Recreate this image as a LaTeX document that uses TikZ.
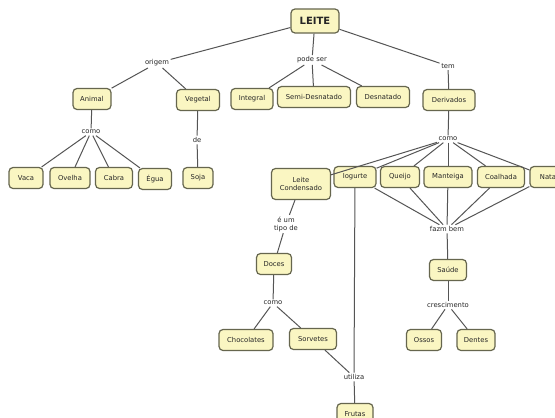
\documentclass[tikz,border=0pt]{standalone}
\usepackage{fontspec}
\setmainfont{DejaVu Sans}
\begin{document}
\begin{tikzpicture}[x=1pt,y=-1pt,
  concept/.style={draw=boxline,fill=boxfill,line width=1.2pt,rounded corners=4pt,
    minimum height=21pt,inner xsep=4pt,inner ysep=2pt,font=\fontsize{6.8}{8}\selectfont,align=center,text=black!85},
  link/.style={inner sep=1.5pt,font=\fontsize{6.8}{8}\selectfont,align=center,text=black!85},
  conn/.style={draw=linegray,line width=1pt}]
\definecolor{boxfill}{HTML}{FAF6C2}
\definecolor{boxline}{HTML}{66664E}
\definecolor{linegray}{HTML}{555555}
\useasboundingbox[fill=white] (0,0) rectangle (555,418);
% concepts
\node[concept,minimum width=48pt,minimum height=24pt,font=\fontsize{10}{12}\selectfont\bfseries] (leite) at (315,21) {LEITE};
\node[concept,minimum width=38pt] (animal) at (92,99) {Animal};
\node[concept,minimum width=43pt] (vegetal) at (198,100) {Vegetal};
\node[concept,minimum width=42pt] (integral) at (252,99) {Integral};
\node[concept,minimum width=73pt] (semi) at (314,97) {Semi-Desnatado};
\node[concept,minimum width=53pt] (desn) at (383,97) {Desnatado};
\node[concept,minimum width=52pt] (deriv) at (449,100) {Derivados};
\node[concept,minimum width=34pt] (vaca) at (26,178) {Vaca};
\node[concept,minimum width=40pt] (ovelha) at (70,178) {Ovelha};
\node[concept,minimum width=37pt] (cabra) at (114,178) {Cabra};
\node[concept,minimum width=33pt] (egua) at (155,179) {Égua};
\node[concept,minimum width=30pt] (soja) at (198,178) {Soja};
\node[concept,minimum width=59pt,minimum height=31pt] (lcond) at (301,184) {Leite\\Condensado};
\node[concept,minimum width=42pt] (iog) at (355,177) {Iogurte};
\node[concept,minimum width=39pt] (queijo) at (400,177) {Queijo};
\node[concept,minimum width=48pt] (mant) at (448,177) {Manteiga};
\node[concept,minimum width=47pt] (coal) at (501,177) {Coalhada};
\node[concept,minimum width=36pt] (nata) at (548,177) {Nata};
\node[concept,minimum width=35pt] (doces) at (274,264) {Doces};
\node[concept,minimum width=37pt] (saude) at (448,270) {Saúde};
\node[concept,minimum width=54pt] (choc) at (246,340) {Chocolates};
\node[concept,minimum width=47pt] (sorv) at (313,339) {Sorvetes};
\node[concept,minimum width=35pt] (ossos) at (424,340) {Ossos};
\node[concept,minimum width=38pt] (dentes) at (476,340) {Dentes};
\node[concept,minimum width=36pt] (frutas) at (355,414) {Frutas};
% linking phrases
\node[link] (origem) at (157,63) {origem};
\node[link] (podeser) at (312,60) {pode ser};
\node[link] (tem) at (448,66) {tem};
\node[link] (como1) at (91,132) {como};
\node[link] (de) at (197,140) {de};
\node[link] (como2) at (448,139) {como};
\node[link] (eum) at (286,224) {é um\\tipo de};
\node[link] (fazm) at (447,229) {fazm bem};
\node[link] (como3) at (273,303) {como};
\node[link] (cresc) at (448,305) {crescimento};
\node[link] (util) at (354,377) {utiliza};
% connectors
\draw[conn] (leite) -- (origem);
\draw[conn] (origem) -- (animal);
\draw[conn] (origem) -- (vegetal);
\draw[conn] (leite) -- (podeser);
\draw[conn] (podeser) -- (integral);
\draw[conn] (podeser) -- (semi);
\draw[conn] (podeser) -- (desn);
\draw[conn] (leite) -- (tem);
\draw[conn] (tem) -- (deriv);
\draw[conn] (animal) -- (como1);
\foreach \n in {vaca,ovelha,cabra,egua} \draw[conn] (como1) -- (\n);
\draw[conn] (vegetal) -- (de);
\draw[conn] (de) -- (soja);
\draw[conn] (deriv) -- (como2);
\foreach \n in {lcond,iog,queijo,mant,coal,nata} \draw[conn] (como2) -- (\n);
\draw[conn] (lcond) -- (eum);
\draw[conn] (eum) -- (doces);
\draw[conn] (doces) -- (como3);
\draw[conn] (como3) -- (choc);
\draw[conn] (como3) -- (sorv);
\draw[conn] (iog) -- (util);
\draw[conn] (sorv) -- (util);
\draw[conn] (util) -- (frutas);
\foreach \n in {iog,queijo,mant,coal,nata} \draw[conn] (\n) -- (fazm);
\draw[conn] (fazm) -- (saude);
\draw[conn] (saude) -- (cresc);
\draw[conn] (cresc) -- (ossos);
\draw[conn] (cresc) -- (dentes);
\end{tikzpicture}
\end{document}
